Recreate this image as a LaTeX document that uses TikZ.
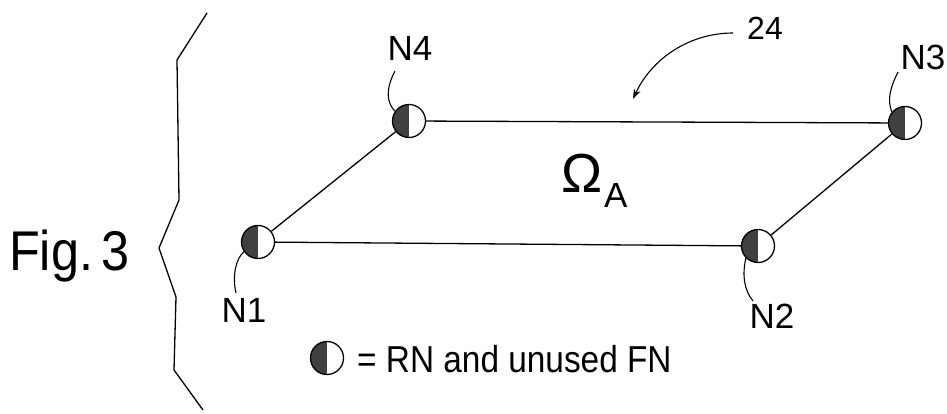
\documentclass[tikz,border=0pt]{standalone}
\usepackage{fontspec}
\setmainfont{Liberation Sans}
\usetikzlibrary{arrows.meta}
\tikzset{
  line/.style={draw=black, line width=1.3pt},
  halfnode/.style={circle, draw=black, line width=1.3pt, fill=white, minimum size=33pt, inner sep=0pt,
    path picture={\fill[black!75] (path picture bounding box.north west) rectangle (path picture bounding box.south);}},
  lab/.style={inner sep=0pt, font=\fontsize{35}{40}\selectfont},
}
\begin{document}
\begin{tikzpicture}[x=1pt,y=-1pt]
\useasboundingbox (0,0) rectangle (947,414);
\fill[white] (0,0) rectangle (947,414);
% brace
\draw[line, line join=round] (207,13) -- (177,60) -- (179,200) -- (159,248) -- (176,297) -- (174,370) -- (203,410);
% figure title
\node[inner sep=0pt, anchor=base west, xscale=0.9, font=\fontsize{56}{60}\selectfont] (fig) at (9,270) {Fig.\,3};
% nodes
\node[halfnode] (n1) at (258,242) {};
\node[halfnode] (n2) at (758,246) {};
\node[halfnode] (n3) at (905,123) {};
\node[halfnode] (n4) at (409,121) {};
% edges
\draw[line] (n1) -- (n2);
\draw[line] (n4) -- (n3);
\draw[line] (n1) -- (n4);
\draw[line] (n2) -- (n3);
% labels
\node[lab] (l1) at (244,310) {N1};
\node[lab] (l2) at (772,316) {N2};
\node[lab] (l3) at (923,57) {N3};
\node[lab] (l4) at (410,48) {N4};
\coordinate (t1) at (236,293);
\coordinate (t2) at (753,301);
\coordinate (t3) at (898,72);
\coordinate (t4) at (395,71);
\draw[line, line width=1.1pt] (n1.215) .. controls (236,258) and (232,276) .. (t1);
\draw[line, line width=1.1pt] (n2.225) .. controls (742,275) and (744,290) .. (t2);
\draw[line, line width=1.1pt] (t3) .. controls (890,88) and (887,100) .. (n3.140);
\draw[line, line width=1.1pt] (t4) .. controls (385,90) and (387,103) .. (n4.145);
% region label
\node[inner sep=0pt, font=\fontsize{55}{60}\selectfont] (omega) at (582,173) {Ω};
\node[inner sep=0pt, anchor=west, font=\fontsize{35}{40}\selectfont] (sub) at (604,195) {A};
% reference numeral
\node[inner sep=0pt, font=\fontsize{32}{36}\selectfont] (l24) at (765,28) {24};
\coordinate (a24) at (733,33);
\coordinate (h24) at (633,99);
\draw[line, line width=1.1pt, -{Stealth[length=10pt,width=7pt]}] (a24) .. controls (690,33) and (652,58) .. (h24);
% legend
\node[halfnode] (leg) at (327,358) {};
\node[inner sep=0pt, anchor=base west, xscale=0.89, font=\fontsize{37.5}{42}\selectfont] (legtext) at (357,372) {= RN and unused FN};
\end{tikzpicture}
\end{document}
